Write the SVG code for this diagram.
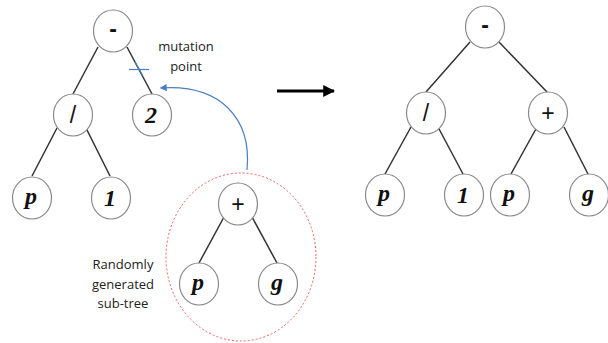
<svg xmlns="http://www.w3.org/2000/svg" width="608" height="343" viewBox="0 0 608 343">
<style>
.n ellipse{fill:#fff;stroke:#8a8a8a;stroke-width:1.2}
.op{font-family:"Liberation Sans",Arial,sans-serif;font-size:23px;fill:#111;text-anchor:middle}
.lf{font-family:"Liberation Serif","Times New Roman",serif;font-size:24px;font-weight:bold;font-style:italic;fill:#111;text-anchor:middle}
.lbl{font-family:"Open Sans","DejaVu Sans",sans-serif;font-size:13px;fill:#222;text-anchor:middle}
.e line{stroke:#333;stroke-width:1.5}
</style>
<defs>
<marker id="ah" viewBox="0 0 10 10" refX="9" refY="5" markerWidth="4" markerHeight="4" orient="auto">
<path d="M0,0 L10,5 L0,10 z" fill="#000"/>
</marker>
<marker id="bh" viewBox="0 0 10 10" refX="8" refY="5" markerWidth="6" markerHeight="6" orient="auto">
<path d="M0,0 L10,5 L0,10 z" fill="#4a7fc1"/>
</marker>
</defs>
<g id="connectors">
<g class="e">
<line x1="98" y1="47" x2="73" y2="94"/>
<line x1="127" y1="47" x2="152" y2="94"/>
<line x1="57" y1="128" x2="32" y2="176"/>
<line x1="86" y1="128" x2="110" y2="176"/>
<line x1="224" y1="217" x2="199" y2="263"/>
<line x1="252" y1="217" x2="277" y2="263"/>
<line x1="470" y1="42" x2="426" y2="92"/>
<line x1="499" y1="42" x2="547" y2="92"/>
<line x1="411" y1="127" x2="385" y2="174"/>
<line x1="438" y1="127" x2="463" y2="174"/>
<line x1="537" y1="127" x2="511" y2="174"/>
<line x1="564" y1="127" x2="588" y2="174"/>
</g>
<path d="M247,170 C252,118 220,84 161,88" fill="none" stroke="#4a7fc1" stroke-width="1.2" marker-end="url(#bh)"/>
<line x1="129" y1="69.5" x2="149" y2="69.5" stroke="#4a7fc1" stroke-width="1.2"/>
<line x1="135" y1="62" x2="143" y2="76" stroke="#4a7fc1" stroke-width="1.2"/>
<line x1="277" y1="91" x2="334" y2="91" stroke="#000" stroke-width="3" marker-end="url(#ah)"/>
</g>
<ellipse id="subtree-boundary" cx="241" cy="257" rx="75" ry="84" fill="none" stroke="#f06060" stroke-width="1" stroke-dasharray="2,2"/>
<g id="l-root" class="n"><ellipse cx="113" cy="31" rx="19.5" ry="21"/><text class="op" x="113" y="37" font-weight="bold">-</text></g>
<g id="l-div" class="n"><ellipse cx="73" cy="115" rx="19.5" ry="21"/><text class="op" x="73" y="123">/</text></g>
<g id="l-2" class="n"><ellipse cx="152" cy="115" rx="19.5" ry="21"/><text class="lf" x="151" y="123">2</text></g>
<g id="l-p" class="n"><ellipse cx="32" cy="198" rx="19.5" ry="21"/><text class="lf" x="31" y="204">p</text></g>
<g id="l-1" class="n"><ellipse cx="111" cy="198" rx="19.5" ry="21"/><text class="lf" x="110" y="206">1</text></g>
<g id="s-plus" class="n"><ellipse cx="238" cy="204" rx="19.5" ry="21"/><text class="op" x="238" y="212">+</text></g>
<g id="s-p" class="n"><ellipse cx="199" cy="284" rx="19.5" ry="21"/><text class="lf" x="198" y="290">p</text></g>
<g id="s-g" class="n"><ellipse cx="278" cy="284" rx="19.5" ry="21"/><text class="lf" x="277" y="290">g</text></g>
<g id="r-root" class="n"><ellipse cx="485" cy="27" rx="19.5" ry="21"/><text class="op" x="485" y="33" font-weight="bold">-</text></g>
<g id="r-div" class="n"><ellipse cx="426" cy="113" rx="19.5" ry="21"/><text class="op" x="426" y="121">/</text></g>
<g id="r-plus" class="n"><ellipse cx="548" cy="113" rx="19.5" ry="21"/><text class="op" x="548" y="121">+</text></g>
<g id="r-p1" class="n"><ellipse cx="385" cy="195" rx="19.5" ry="21"/><text class="lf" x="384" y="201">p</text></g>
<g id="r-1" class="n"><ellipse cx="464" cy="195" rx="19.5" ry="21"/><text class="lf" x="463" y="203">1</text></g>
<g id="r-p2" class="n"><ellipse cx="510" cy="195" rx="19.5" ry="21"/><text class="lf" x="509" y="201">p</text></g>
<g id="r-g" class="n"><ellipse cx="589" cy="195" rx="19.5" ry="21"/><text class="lf" x="588" y="201">g</text></g>
<g id="label-mutation"><text class="lbl" x="186" y="51">mutation</text><text class="lbl" x="186" y="71">point</text></g>
<g id="label-random"><text class="lbl" x="123" y="269">Randomly</text><text class="lbl" x="123" y="289">generated</text><text class="lbl" x="123" y="308">sub-tree</text></g>
</svg>
